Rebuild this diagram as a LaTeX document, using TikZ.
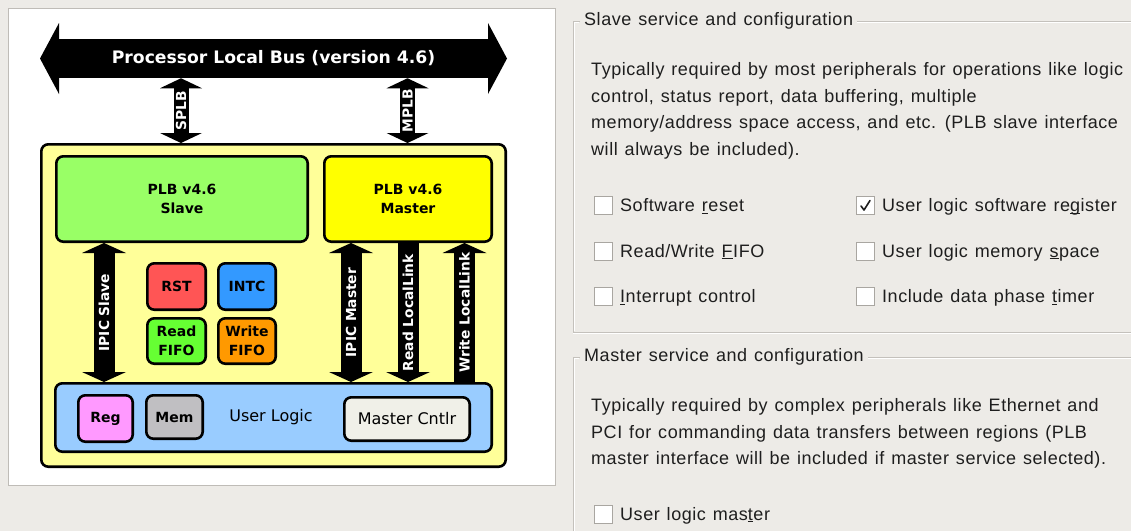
\documentclass[tikz,border=0pt]{standalone}
\usepackage{fontspec}
\usetikzlibrary{arrows.meta}
\newfontfamily\dfont{DejaVu Sans}
\newfontfamily\gfont[LetterSpace=3,WordSpace=1.25]{Liberation Sans}
\definecolor{bgc}{HTML}{EDEBE7}
\definecolor{pnlb}{HTML}{BFBCB7}
\definecolor{frm}{HTML}{C4C1BC}
\definecolor{gslave}{HTML}{99FF66}
\definecolor{ymaster}{HTML}{FFFF00}
\definecolor{youter}{HTML}{FFFF99}
\definecolor{bul}{HTML}{99CCFF}
\definecolor{rst}{HTML}{FF5555}
\definecolor{intc}{HTML}{3399FF}
\definecolor{rfifo}{HTML}{66FF33}
\definecolor{wfifo}{HTML}{FF9900}
\definecolor{regc}{HTML}{FF99FF}
\definecolor{memc}{HTML}{C0BFC2}
\definecolor{mcc}{HTML}{F0F0E8}
\definecolor{gtxt}{HTML}{1E1E1E}
\definecolor{cbb}{HTML}{A9A6A1}
\newcommand\accel[1]{\setbox0\hbox{#1}\rlap{\rule[-2.3pt]{\wd0}{1.1pt}}#1}
\begin{document}
\begin{tikzpicture}[x=1pt,y=-1pt,
  blk/.style={draw=black, line width=2.6pt, rounded corners=7pt, align=center, inner sep=0pt,
    font=\dfont\bfseries\fontsize{14}{19}\selectfont},
  blkn/.style={blk, font=\dfont\fontsize{16}{19}\selectfont},
  lbl/.style={text=white, rotate=90, inner sep=0pt, outer sep=0pt,
    font=\dfont\bfseries\fontsize{13.8}{16}\selectfont},
  tipS/.tip={Triangle[length=10pt,width=42pt,line width=0pt]},
  tipI/.tip={Triangle[length=10pt,width=44pt,line width=0pt]},
  tipB/.tip={Triangle[length=19pt,width=71pt,line width=0pt]},
  busarrow/.style={draw=black, line width=39.5pt, {tipB}-{tipB}},
  plbarrow/.style={draw=black, line width=15pt},
  iparrow/.style={draw=black, line width=21pt},
  gtext/.style={text=gtxt, inner sep=0pt, font=\gfont\fontsize{18}{26}\selectfont},
  gtitle/.style={text=gtxt, inner xsep=4pt, inner ysep=0pt, font=\gfont\fontsize{18}{26}\selectfont},
  cbox/.style={draw=cbb, fill=white, line width=0.9pt, minimum size=18pt, inner sep=0pt},
  frame/.style={draw=frm, line width=1pt},
  framehi/.style={draw=white, line width=1pt}
]
\useasboundingbox (0,0) rectangle (1131,531);
\fill[bgc] (0,0) rectangle (1131,531);
% left white panel
\node[draw=pnlb, fill=white, line width=1pt, minimum width=547pt, minimum height=477pt, inner sep=0pt] (panel) at (282,247) {};

% ---- diagram ----
\node[blk, fill=youter, minimum width=464.4pt, minimum height=322.4pt] (outer) at (273.5,305.5) {};
\node[blk, fill=gslave, minimum width=251.4pt, minimum height=85.4pt] (slave) at (182,199) {PLB v4.6\\Slave};
\node[blk, fill=ymaster, minimum width=167.4pt, minimum height=85.4pt] (master) at (408,199) {PLB v4.6\\Master};
\node[blk, fill=rst, minimum width=58.4pt, minimum height=46.4pt] (rst) at (176.5,286.5) {RST};
\node[blk, fill=intc, minimum width=57.4pt, minimum height=46.4pt] (intc) at (247,286.5) {INTC};
\node[blk, fill=rfifo, minimum width=58.4pt, minimum height=45.4pt] (rfifo) at (176.5,341) {Read\\FIFO};
\node[blk, fill=wfifo, minimum width=57.4pt, minimum height=45.4pt] (wfifo) at (247,341) {Write\\FIFO};
\node[blk, fill=bul, minimum width=436.4pt, minimum height=68.4pt] (user) at (273.5,417.5) {};
\node[blk, fill=regc, minimum width=54.4pt, minimum height=46.4pt] (reg) at (105.5,418.5) {Reg};
\node[blk, fill=memc, minimum width=56.4pt, minimum height=43.4pt] (mem) at (174.5,417) {Mem};
\node[blkn, fill=mcc, minimum width=125.4pt, minimum height=43.4pt] (mc) at (407,419) {Master Cntlr};
\node[font=\dfont\fontsize{16}{19}\selectfont, inner sep=0pt] (ul) at (271,417) {User Logic};

% bus
\coordinate (busL) at (40,58.5);
\coordinate (busR) at (507,58.5);
\draw[busarrow] (busL) -- node[text=white, minimum height=39.5pt, inner sep=0pt, outer sep=0pt,
   font=\dfont\bfseries\fontsize{17.2}{20}\selectfont] (bus) {Processor Local Bus (version 4.6)} (busR);

% x positions of the vertical connectors
\coordinate (xsplb) at (181,0);
\coordinate (xmplb) at (407.5,0);
\coordinate (xis) at (104,0);
\coordinate (xim) at (351,0);
\coordinate (xrl) at (408,0);
\coordinate (xwl) at (464.5,0);

\draw[plbarrow, {tipS}-{tipS}] (bus.south -| xsplb) -- node[lbl] {SPLB} (outer.north -| xsplb);
\draw[plbarrow, {tipS}-{tipS}] (bus.south -| xmplb) -- node[lbl] {MPLB} (outer.north -| xmplb);
\draw[iparrow, {tipI}-{tipI}] (slave.south -| xis) -- node[lbl] {IPIC Slave} (user.north -| xis);
\draw[iparrow, {tipI}-{tipI}] (master.south -| xim) -- node[lbl] {IPIC Master} (user.north -| xim);
\draw[iparrow, -{tipI}] (master.south -| xrl) -- node[lbl] {Read LocalLink} (user.north -| xrl);
\draw[iparrow, {tipI}-] (master.south -| xwl) -- node[lbl] {Write LocalLink} (user.north -| xwl);

% ---- right side: slave group ----
\node[gtitle, anchor=west] (stitle) at (580,21) {Slave service and configuration};
\draw[framehi] (1131,22) -- (stitle.east |- 0,22);
\draw[framehi] ([xshift=-1pt]stitle.west |- 0,22) -- (574,22) -- (574,331);
\draw[framehi] (573,333) -- (1131,333);
\draw[frame] (stitle.east |- 0,21) -- (1131,21);
\draw[frame] (stitle.west |- 0,21) -- (573,21) -- (573,332) -- (1131,332);

\node[gtext, anchor=base west] (sp1) at (591,75.5) {Typically required by most peripherals for operations like logic};
\node[gtext, anchor=base west] (sp2) at (591,102) {control, status report, data buffering, multiple};
\node[gtext, anchor=base west] (sp3) at (591,128.5) {memory/address space access, and etc. (PLB slave interface};
\node[gtext, anchor=base west] (sp4) at (591,155) {will always be included).};

\node[cbox] (cb1) at (603.5,205.5) {};
\node[cbox] (cb2) at (603.5,251) {};
\node[cbox] (cb3) at (603.5,296.5) {};
\node[cbox] (cb4) at (865.5,205.5) {};
\node[cbox] (cb5) at (865.5,251) {};
\node[cbox] (cb6) at (865.5,296.5) {};
\draw[gtxt, line width=1.6pt, line cap=round, line join=round]
  ([shift={(-4.5,0.5)}]cb4.center) -- ([shift={(-1.5,4.5)}]cb4.center) -- ([shift={(4.5,-5)}]cb4.center);

\node[gtext, anchor=base west] (t1) at (620,211.5) {Software \accel{r}eset};
\node[gtext, anchor=base west] (t2) at (620,257) {Read/Write \accel{F}IFO};
\node[gtext, anchor=base west] (t3) at (620,302.5) {\accel{I}nterrupt control};
\node[gtext, anchor=base west] (t4) at (882,211.5) {User logic software re\accel{g}ister};
\node[gtext, anchor=base west] (t5) at (882,257) {User logic memory \accel{s}pace};
\node[gtext, anchor=base west] (t6) at (882,302.5) {Include data phase \accel{t}imer};

% ---- master group ----
\node[gtitle, anchor=west] (mtitle) at (580,357) {Master service and configuration};
\draw[framehi] (1131,358) -- (mtitle.east |- 0,358);
\draw[framehi] ([xshift=-1pt]mtitle.west |- 0,358) -- (574,358) -- (574,531);
\draw[frame] (mtitle.east |- 0,357) -- (1131,357);
\draw[frame] (mtitle.west |- 0,357) -- (573,357) -- (573,531);

\node[gtext, anchor=base west] (mp1) at (591,411.5) {Typically required by complex peripherals like Ethernet and};
\node[gtext, anchor=base west] (mp2) at (591,438) {PCI for commanding data transfers between regions (PLB};
\node[gtext, anchor=base west] (mp3) at (591,464.5) {master interface will be included if master service selected).};
\node[cbox] (cb7) at (603.5,514) {};
\node[gtext, anchor=base west] (t7) at (620,520) {User logic mas\accel{t}er};
\end{tikzpicture}
\end{document}
